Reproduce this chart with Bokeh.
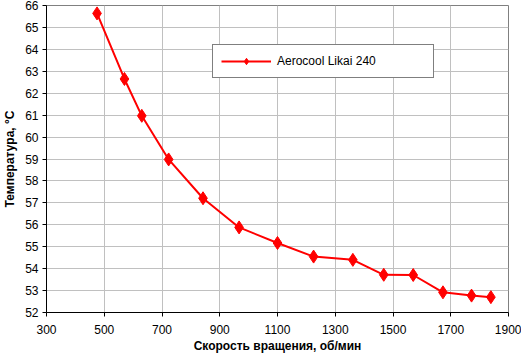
from bokeh.plotting import figure
from bokeh.embed import file_html
from bokeh.resources import INLINE
from bokeh.models import FixedTicker, Range1d, Legend, LegendItem, ColumnDataSource

rpm = [475, 570, 630, 723, 842, 967, 1100, 1225, 1361, 1468, 1570, 1673, 1772, 1839]
temp = [65.64, 62.65, 60.97, 58.98, 57.21, 55.88, 55.17, 54.55, 54.40, 53.72, 53.71, 52.92, 52.77, 52.70]
series_name = "Aerocool Likai 240"
x_ticks = [300, 500, 700, 900, 1100, 1300, 1500, 1700, 1900]
y_ticks = list(range(52, 67))
x_label = "Скорость вращения, об/мин"
y_label = "Температура, °C"

FONT = "Liberation Sans"

p = figure(width=521, height=355, output_backend="svg", toolbar_location=None,
           x_range=Range1d(300, 1900), y_range=Range1d(52, 66),
           min_border_top=5, min_border_right=13, min_border_left=10, min_border_bottom=10)
p.background_fill_color = "white"
p.border_fill_color = "white"
p.outline_line_color = "#808080"
p.outline_line_width = 1

src = ColumnDataSource(dict(x=rpm, y=temp))
ln = p.line("x", "y", source=src, line_color="#ff0000", line_width=2)
sc = p.scatter("x", "y", source=src, marker="diamond", size=13, fill_color="#ff0000", line_color="#ff0000")

for ax, ticks in ((p.xaxis[0], x_ticks), (p.yaxis[0], y_ticks)):
    ax.ticker = FixedTicker(ticks=ticks)
    ax.axis_line_color = "black"
    ax.major_tick_line_color = "black"
    ax.major_tick_in = 0
    ax.major_tick_out = 4
    ax.minor_tick_line_color = None
    ax.major_label_text_font = FONT
    ax.major_label_text_font_size = "12px"
    ax.major_label_text_color = "black"
    ax.axis_label_text_font = FONT
    ax.axis_label_text_font_size = "12px"
    ax.axis_label_text_font_style = "bold"
    ax.axis_label_text_color = "black"

p.xaxis.axis_label = x_label
p.yaxis.axis_label = y_label
p.xaxis.major_label_standoff = 8
p.xaxis.axis_label_standoff = 2
p.yaxis.major_label_standoff = 4
p.yaxis.axis_label_standoff = 5

p.xgrid.ticker = FixedTicker(ticks=x_ticks)
p.ygrid.ticker = FixedTicker(ticks=y_ticks)
p.grid.grid_line_color = "#c0c0c0"
p.grid.grid_line_width = 1

legend = Legend(items=[LegendItem(label=series_name, renderers=[ln, sc])],
                location=(166, 234), padding=8, spacing=0, margin=0,
                glyph_width=50, glyph_height=16, label_standoff=6, label_width=148,
                label_text_font=FONT, label_text_font_size="12px", label_text_color="black",
                border_line_color="black", border_line_width=1,
                background_fill_color="white", background_fill_alpha=1.0)
p.add_layout(legend)

open("out.html", "w").write(file_html(p, INLINE))
